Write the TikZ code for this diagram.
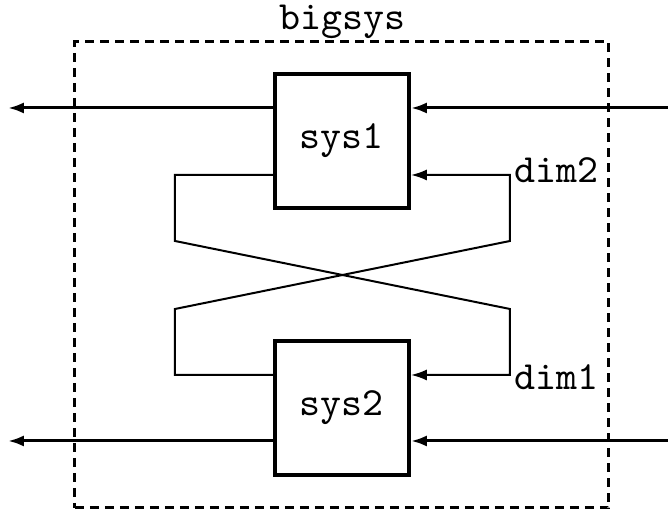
\documentclass[tikz,border=0pt]{standalone}
\usepackage{tikz}
\usetikzlibrary{arrows.meta}

\begin{document}
\begin{tikzpicture}[x=0.25pt,y=0.25pt,yscale=-1,xscale=1,
    sysbox/.style={draw,line width=1pt,minimum size=33.5pt,inner sep=0pt,font=\ttfamily},
    groupbox/.style={draw,line width=0.75pt,dash pattern=on 2.25pt off 1.5pt,inner sep=0pt},
    sig/.style={line width=0.75pt,-{Latex[length=4pt,width=2.8pt]}},
    fb/.style={line width=0.5pt,-{Latex[length=4pt,width=2.8pt]}},
    lbl/.style={font=\ttfamily,inner sep=0.75pt}]
    \useasboundingbox (0,0) rectangle (668,511);

    %outer dashed box
    \node [groupbox,minimum width=133.5pt,minimum height=116.5pt] (bigsys) at (342,275) {};
    \node [lbl] (title) at (343,22) {bigsys};

    %subsystems
    \node [sysbox] (sys1) at (342,141) {sys1};
    \node [sysbox] (sys2) at (342,408) {sys2};

    %free ends of the outer signals
    \coordinate (in1) at (668,108);
    \coordinate (out1) at (8,108);
    \coordinate (in2) at (668,441);
    \coordinate (out2) at (8,441);

    %corners of the feedback loop
    \coordinate (fbl1) at (175,175);
    \coordinate (fbl1d) at (175,241);
    \coordinate (fbr2d) at (510,309);
    \coordinate (fbr2) at (510,375);
    \coordinate (fbl2) at (175,375);
    \coordinate (fbl2u) at (175,309);
    \coordinate (fbr1u) at (510,241);
    \coordinate (fbr1) at (510,175);

    %outer signals
    \draw [sig] (in1) -- (in1 -| sys1.east);
    \draw [sig] (sys1.west |- out1) -- (out1);
    \draw [sig] (in2) -- (in2 -| sys2.east);
    \draw [sig] (sys2.west |- out2) -- (out2);

    %feedback
    \draw [fb] (sys1.west |- fbl1) -- (fbl1) -- (fbl1d) -- (fbr2d) -- (fbr2) -- (fbr2 -| sys2.east);
    \draw [fb] (sys2.west |- fbl2) -- (fbl2) -- (fbl2u) -- (fbr1u) -- (fbr1) -- (fbr1 -| sys1.east);

    \node [lbl] (dim2) at (557,170) {dim2};
    \node [lbl] (dim1) at (557,377) {dim1};
\end{tikzpicture}
\end{document}
